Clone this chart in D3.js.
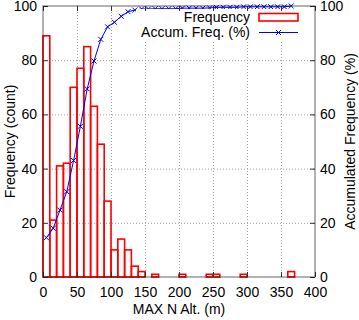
<!DOCTYPE html>
<html>
<head>
<meta charset="utf-8">
<script src="https://cdn.jsdelivr.net/npm/d3@7"></script>
<style>
  body { margin: 0; background: #fff; }
  svg { display: block; font-family: "Liberation Sans", Arial, sans-serif; }
</style>
</head>
<body>
<svg class="chart" width="359" height="320"></svg>
<script>
// bin start (m), bins are 10 m wide
var binStarts = [0, 10, 20, 30, 40, 50, 60, 70, 80, 90, 100, 110, 120, 130, 140, 150, 160, 170, 180, 190,
                 200, 210, 220, 230, 240, 250, 260, 270, 280, 290, 300, 310, 320, 330, 340, 350, 360];
// counts per bin
var counts = [89, 21, 41, 42, 70, 77, 85, 63, 49, 28, 10, 14, 10, 4, 2, 0, 1, 0, 0, 0,
              1, 0, 0, 0, 1, 1, 0, 0, 0, 1, 0, 0, 0, 0, 0, 0, 2];
// accumulated frequency (%) at bin centres
var accum = [14.5, 18.0, 24.7, 31.5, 43.0, 55.6, 69.4, 79.7, 87.7, 92.3, 94.0, 96.2, 97.9, 98.5, 98.9, 98.9, 99.0, 99.0, 99.0, 99.0,
             99.2, 99.2, 99.2, 99.2, 99.3, 99.5, 99.5, 99.5, 99.5, 99.7, 99.7, 99.7, 99.7, 99.7, 99.7, 99.7, 100];
var xTicks = [0, 50, 100, 150, 200, 250, 300, 350, 400];
var yTicks = [0, 20, 40, 60, 80, 100];
var binWidth = 10;

(function show() {
    'use strict';

    var margin = {top: 6, bottom: 43, right: 44, left: 43},
        width = 359 - margin.left - margin.right,
        height = 320 - margin.top - margin.bottom;

    var svg = d3.select(".chart");
    var chart = svg.append("g")
        .attr("transform", "translate(" + margin.left + "," + margin.top + ")");

    var scaleX = d3.scaleLinear().domain([0, 400]).range([0, width]);
    var scaleY = d3.scaleLinear().domain([0, 100]).range([height, 0]);
    var scaleY2 = d3.scaleLinear().domain([0, 100]).range([height, 0]);

    var data = binStarts.map(function(b, i) {
        return {x: b, count: counts[i], acc: accum[i]};
    });

    // grid
    var grid = chart.append("g").attr("stroke", "#a0a0a0").attr("stroke-dasharray", "1,2")
        .attr("stroke-width", 1);
    grid.selectAll("line.gx").data(xTicks.slice(1, -1)).enter().append("line")
        .attr("x1", function(d) { return scaleX(d) + 0.5; })
        .attr("x2", function(d) { return scaleX(d) + 0.5; })
        .attr("y1", 0).attr("y2", height);
    grid.selectAll("line.gy").data(yTicks.slice(1, -1)).enter().append("line")
        .attr("y1", function(d) { return scaleY(d) + 0.5; })
        .attr("y2", function(d) { return scaleY(d) + 0.5; })
        .attr("x1", 0).attr("x2", width);

    // frequency bars
    chart.append("g").selectAll("rect")
        .data(data.filter(function(d) { return d.count > 0; }))
        .enter().append("rect")
        .attr("x", function(d) { return scaleX(d.x); })
        .attr("y", function(d) { return scaleY(d.count); })
        .attr("width", scaleX(binWidth) - scaleX(0))
        .attr("height", function(d) { return scaleY(0) - scaleY(d.count); })
        .attr("fill", "none")
        .attr("stroke", "#ff0000")
        .attr("stroke-width", 1.6);

    // accumulated line
    var line = d3.line()
        .x(function(d) { return scaleX(d.x + binWidth / 2); })
        .y(function(d) { return scaleY2(d.acc); });
    chart.append("path").datum(data)
        .attr("d", line)
        .attr("fill", "none")
        .attr("stroke", "#0000ff")
        .attr("stroke-width", 1);

    var cross = function(sel, s) {
        sel.append("path")
            .attr("d", "M" + (-s) + "," + (-s) + "L" + s + "," + s + "M" + (-s) + "," + s + "L" + s + "," + (-s))
            .attr("stroke", "#0000ff").attr("stroke-width", 1).attr("fill", "none");
    };
    chart.append("g").selectAll("g").data(data).enter().append("g")
        .attr("transform", function(d) {
            return "translate(" + scaleX(d.x + binWidth / 2) + "," + scaleY2(d.acc) + ")";
        })
        .call(cross, 2.5);

    // legend (opaque)
    var legend = chart.append("g");
    legend.append("rect")
        .attr("x", 93).attr("y", 3).attr("width", 176).attr("height", 32)
        .attr("fill", "#fff");
    legend.append("text").attr("x", 207).attr("y", 11).attr("dy", "0.35em")
        .attr("text-anchor", "end").attr("font-size", 14).text("Frequency");
    legend.append("text").attr("x", 207).attr("y", 26).attr("dy", "0.35em")
        .attr("text-anchor", "end").attr("font-size", 14).text("Accum. Freq. (%)");
    legend.append("rect").attr("x", 216).attr("y", 7.5).attr("width", 39).attr("height", 7.5)
        .attr("fill", "none").attr("stroke", "#ff0000").attr("stroke-width", 1.6);
    legend.append("line").attr("x1", 216).attr("x2", 255).attr("y1", 26.5).attr("y2", 26.5)
        .attr("stroke", "#0000ff").attr("stroke-width", 1);
    legend.append("g").attr("transform", "translate(235.5,26.5)").call(cross, 2.5);

    // axes
    var bottomAxis = d3.axisBottom(scaleX).tickValues(xTicks).tickSize(-5).tickPadding(10);
    var topAxis = d3.axisTop(scaleX).tickValues(xTicks).tickSize(-5).tickFormat("");
    var leftAxis = d3.axisLeft(scaleY).tickValues(yTicks).tickSize(-5).tickPadding(6);
    var rightAxis = d3.axisRight(scaleY2).tickValues(yTicks).tickSize(-5).tickPadding(5);

    var axes = [
        chart.append("g").attr("transform", "translate(0," + height + ")").call(bottomAxis),
        chart.append("g").call(topAxis),
        chart.append("g").call(leftAxis),
        chart.append("g").attr("transform", "translate(" + width + ",0)").call(rightAxis)
    ];
    axes.forEach(function(a) {
        a.select(".domain").remove();
        a.selectAll(".tick line").attr("stroke", "#333");
        a.selectAll(".tick text").attr("font-size", 14).attr("fill", "#000")
            .attr("font-family", "'Liberation Sans', Arial, sans-serif");
    });

    // border, half transparent so red bars show through as dark red
    chart.append("rect")
        .attr("x", 0).attr("y", 0).attr("width", width).attr("height", height)
        .attr("fill", "none").attr("stroke", "#000").attr("stroke-opacity", 0.5)
        .attr("stroke-width", 1.2);

    // axis titles
    svg.append("text")
        .attr("x", margin.left + width / 2).attr("y", 314)
        .attr("text-anchor", "middle").attr("font-size", 14)
        .text("MAX N Alt. (m)");
    svg.append("text")
        .attr("transform", "translate(10," + (margin.top + height / 2) + ") rotate(-90)")
        .attr("text-anchor", "middle").attr("dy", "0.35em").attr("font-size", 14)
        .text("Frequency (count)");
    svg.append("text")
        .attr("transform", "translate(350," + (margin.top + height / 2) + ") rotate(-90)")
        .attr("text-anchor", "middle").attr("dy", "0.35em").attr("font-size", 14)
        .text("Accumulated Frequency (%)");
})();
</script>
</body>
</html>
